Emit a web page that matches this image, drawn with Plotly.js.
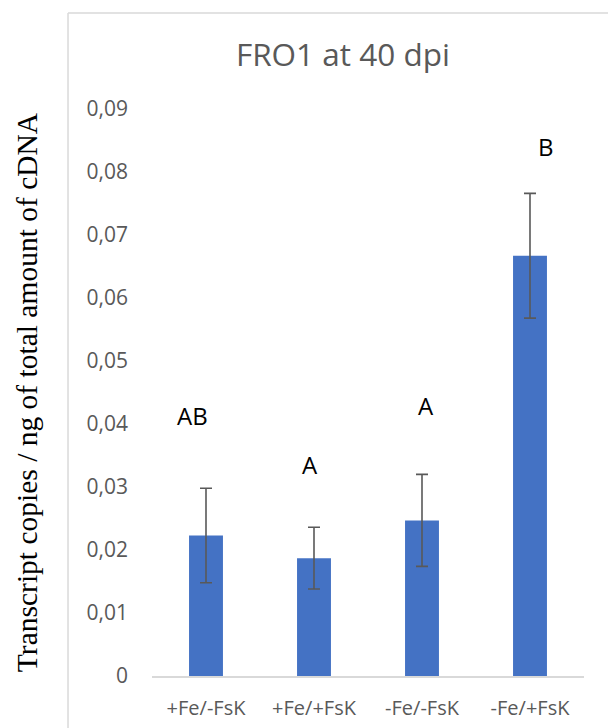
<!DOCTYPE html>
<html>
<head>
<meta charset="utf-8">
<script src="https://cdn.plot.ly/plotly-3.0.1.min.js"></script>
<style>html,body{margin:0;padding:0;background:#fff}#chart{width:608px;height:728px}</style>
</head>
<body>
<div id="chart"></div>
<script>
const categories = ['+Fe/-FsK', '+Fe/+FsK', '-Fe/-FsK', '-Fe/+FsK'];
const values = [0.0223, 0.0187, 0.0247, 0.0667];
const errors = [0.0075, 0.0049, 0.0073, 0.0099];
const letters = ['AB', 'A', 'A', 'B'];
const letterY = [0.0413, 0.0335, 0.0430, 0.0841];
const tickVals = [0, 0.01, 0.02, 0.03, 0.04, 0.05, 0.06, 0.07, 0.08, 0.09];
const tickText = ['0', '0,01', '0,02', '0,03', '0,04', '0,05', '0,06', '0,07', '0,08', '0,09'];
const letterShift = [-14, -4, 4, 16];

const trace = {
  type: 'bar',
  x: categories,
  y: values,
  marker: {color: '#4472C4', line: {width: 0}},
  error_y: {type: 'data', array: errors, visible: true, color: '#595959', thickness: 1.6, width: 6},
  hoverinfo: 'none'
};

const annotations = letters.map((t, i) => ({
  x: categories[i], y: letterY[i], xref: 'x', yref: 'y', text: t, showarrow: false,
  xshift: letterShift[i], xanchor: 'center', yanchor: 'middle',
  font: {family: 'Open Sans', size: 24, color: '#000000'}
}));

const layout = {
  width: 608, height: 728,
  margin: {l: 152, r: 24, t: 109, b: 52},
  paper_bgcolor: '#ffffff', plot_bgcolor: '#ffffff',
  showlegend: false,
  bargap: 0.686,
  title: {text: 'FRO1 at 40 dpi', x: 0.564, xanchor: 'center', y: 0.9245, yanchor: 'middle',
          xref: 'container', yref: 'container',
          font: {family: 'Open Sans', size: 31.5, color: '#595959'}},
  xaxis: {
    type: 'category', range: [-0.5, 3.5], showgrid: false, zeroline: false,
    showline: true, linecolor: '#d9d9d9', linewidth: 1.5,
    ticks: '', ticklabelstandoff: 13,
    tickfont: {family: 'Open Sans', size: 20, color: '#595959'}
  },
  yaxis: {
    range: [0, 0.09], showgrid: false, zeroline: false, showline: false,
    tickvals: tickVals, ticktext: tickText, ticks: '', ticklabelstandoff: 23,
    tickfont: {family: 'Open Sans', size: 21, color: '#595959'},
    title: {text: 'Transcript copies / ng of total amount of cDNA', standoff: 40,
            font: {family: 'Liberation Serif', size: 29.5, color: '#000000'}}
  },
  annotations: annotations,
  shapes: [
    {type: 'line', xref: 'paper', yref: 'paper', x0: -0.1944, x1: -0.1944, y0: 1.1693, y1: -0.3, line: {color: '#d9d9d9', width: 1.5}},
    {type: 'line', xref: 'paper', yref: 'paper', x0: -0.1944, x1: 1.3, y0: 1.1693, y1: 1.1693, line: {color: '#d9d9d9', width: 1.5}}
  ]
};

Plotly.newPlot('chart', [trace], layout, {staticPlot: true, displayModeBar: false});
</script>
</body>
</html>
